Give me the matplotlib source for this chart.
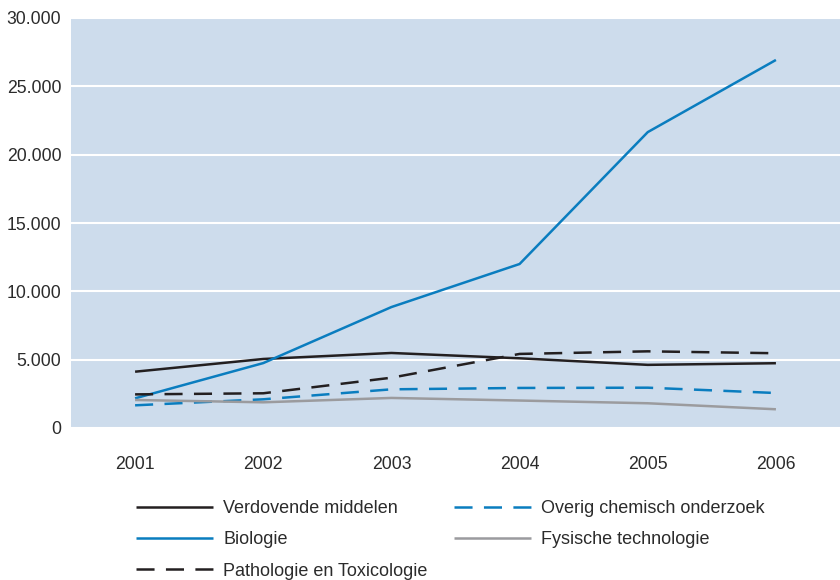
import matplotlib
matplotlib.use("Agg")
import matplotlib.pyplot as plt
from matplotlib.ticker import FuncFormatter

years = [2001, 2002, 2003, 2004, 2005, 2006]
verdovende = [4120, 5050, 5490, 5100, 4620, 4740]
biologie = [2170, 4750, 8850, 12000, 21650, 26930]
pathologie = [2460, 2540, 3680, 5420, 5610, 5470]
overig = [1660, 2100, 2830, 2930, 2950, 2560]
fysische = [2050, 1880, 2200, 2010, 1810, 1370]

labels = ["Verdovende middelen", "Biologie", "Pathologie en Toxicologie",
          "Overig chemisch onderzoek", "Fysische technologie"]

plt.rcParams['lines.scale_dashes'] = False
plt.rcParams['font.family'] = ['Liberation Sans', 'DejaVu Sans']

BLACK = '#231f20'
BLUE = '#0a7dbf'
GREY = '#9b9b9e'
BG = '#cddcec'
TXT = '#2b2b2b'
LW = 1.8
DASH = (0, (13, 8.2))

fig = plt.figure(figsize=(8.4, 5.8), dpi=100)
ax = fig.add_axes([71/840, 1 - 428/580, (840 - 71)/840, (428 - 18)/580])
ax.set_facecolor(BG)

series = [
    (verdovende, BLACK, '-'),
    (biologie, BLUE, '-'),
    (pathologie, BLACK, DASH),
    (overig, BLUE, DASH),
    (fysische, GREY, '-'),
]
handles = []
for (vals, col, ls), lab in zip(series, labels):
    h, = ax.plot(years, vals, color=col, lw=LW, linestyle=ls, label=lab,
                 solid_capstyle='butt', dash_capstyle='butt', zorder=3)
    handles.append(h)

ax.set_xlim(2000.5, 2006.5)
ax.set_ylim(0, 30000)
ax.set_yticks(range(0, 30001, 5000))
ax.set_xticks(years)
ax.yaxis.set_major_formatter(FuncFormatter(lambda v, p: f"{int(v):,}".replace(",", ".")))
ax.grid(axis='y', color='white', lw=1.5, zorder=1)
ax.set_axisbelow(True)
for s in ax.spines.values():
    s.set_visible(False)
ax.tick_params(axis='both', length=0, labelsize=12.7, colors=TXT)
ax.tick_params(axis='y', pad=7)
ax.tick_params(axis='x', pad=20)

FS = 13
leg_kw = dict(frameon=False, prop={'size': FS},
              handlelength=55.4 / FS, handletextpad=7.4 / FS,
              labelspacing=0.79, borderpad=0, borderaxespad=0, loc='upper left')
leg1 = fig.legend(handles=handles[:3], bbox_to_anchor=(136/840, 1 - 500/580), **leg_kw)
leg2 = fig.legend(handles=handles[3:], bbox_to_anchor=(454/840, 1 - 500/580), **leg_kw)
for leg in (leg1, leg2):
    for t in leg.get_texts():
        t.set_color(TXT)

fig.savefig("out.png", dpi=100)
